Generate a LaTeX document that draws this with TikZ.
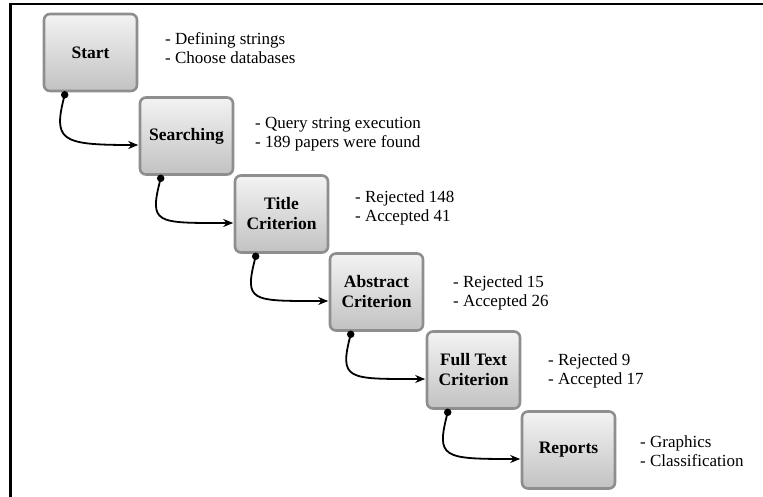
\documentclass[tikz,border=0pt]{standalone}
\usepackage{fontspec}
\setmainfont{Liberation Serif}
\newfontfamily\diagserif{Liberation Serif}
\usetikzlibrary{arrows.meta}
\definecolor{boxborder}{HTML}{8E8E8E}
\definecolor{boxtop}{HTML}{F3F3F3}
\definecolor{boxbot}{HTML}{C2C2C2}
\begin{document}
\begin{tikzpicture}[x=1pt,y=-1pt,
  stagebox/.style={draw=boxborder, line width=2.6pt, rounded corners=6pt,
    top color=boxtop, bottom color=boxbot, minimum width=93pt, minimum height=77pt,
    inner sep=0pt, align=center, font=\diagserif\fontsize{17.5}{20}\selectfont\bfseries},
  note/.style={anchor=west, align=left, inner sep=0pt, font=\diagserif\fontsize{17}{19}\selectfont},
  link/.style={line width=1.8pt, -{Stealth[length=10pt,width=8pt]}},
  dotmark/.style={circle, fill=black, inner sep=0pt, minimum size=7.5pt},
  frameline/.style={line width=2.2pt}]
\useasboundingbox (0,0) rectangle (763,497);
\coordinate (fa) at (10.5,497);
\coordinate (fb) at (10.5,3.7);
\coordinate (fc) at (763,3.7);
\draw[frameline] (fa) -- (fb) -- (fc);

\node[stagebox] (s1) at (90.5,52.5) {Start};
\node[stagebox] (s2) at (186.5,136) {Searching};
\node[stagebox] (s3) at (281.5,214) {Title\\Criterion};
\node[stagebox] (s4) at (376.5,292) {Abstract\\Criterion};
\node[stagebox] (s5) at (473.5,370) {Full Text\\Criterion};
\node[stagebox] (s6) at (568.5,450) {Reports};

\node[note] (n1) at (165,48.5) {- Defining strings\\- Choose databases};
\node[note] (n2) at (255,134) {- Query string execution\\- 189 papers were found};
\node[note] (n3) at (355,208) {- Rejected 148\\- Accepted 41};
\node[note] (n4) at (453,293) {- Rejected 15\\- Accepted 26};
\node[note] (n5) at (548,371) {- Rejected 9\\- Accepted 17};
\node[note] (n6) at (640,451) {- Graphics\\- Classification};

\foreach \a/\b in {s1/s2,s2/s3,s3/s4,s4/s5,s5/s6}{
  \coordinate (\a-dot) at ([xshift=22pt,yshift=-2.5pt]\a.south west);
  \coordinate (\b-in) at ([xshift=-0.5pt,yshift=-9pt]\b.west);
  \draw[link] (\a-dot) .. controls +(-12,46) and +(-78,0) .. (\b-in);
  \node[dotmark] at (\a-dot) {};
}
\end{tikzpicture}
\end{document}
